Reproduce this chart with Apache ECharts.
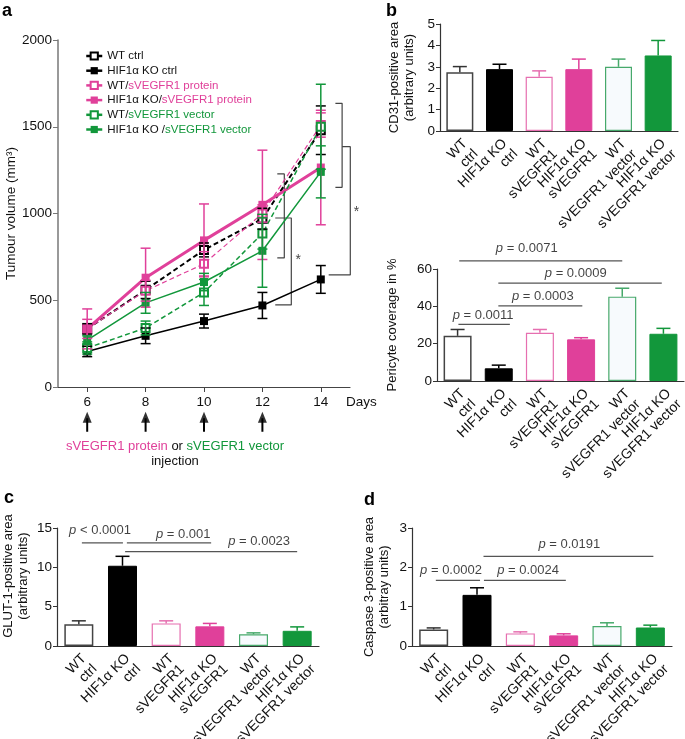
<!DOCTYPE html>
<html>
<head>
<meta charset="utf-8">
<script src="https://cdn.jsdelivr.net/npm/echarts@6.0.0/dist/echarts.min.js"></script>
<style>
  html, body { margin: 0; padding: 0; background: #fff; }
  #main { width: 685px; height: 739px; }
</style>
</head>
<body>
<div id="main"></div>
<script>
// panel a : tumour volume over days
var days = [6, 8, 10, 12, 14];
var wtCtrl = [335, 560, 790, 970, 1480];
var wtCtrlErr = [30, 50, 40, 60, 140];
var koCtrl = [205, 295, 380, 470, 620];
var koCtrlErr = [30, 45, 40, 75, 80];
var wtProt = [335, 555, 710, 1000, 1510];
var wtProtErr = [115, 60, 70, 50, 70];
var koProt = [335, 630, 845, 1050, 1265];
var koProtErr = [55, 170, 210, 315, 330];
var wtVec = [225, 340, 545, 885, 1500];
var wtVecErr = [35, 40, 75, 90, 245];
var koVec = [270, 485, 605, 785, 1240];
var koVecErr = [25, 60, 50, 210, 150];
var injectionDays = [6, 8, 10, 12];

// brackets and stars in panel a (day, volume)
var bracketsA = [
  [[12.51, 1228], [12.75, 1228], [12.75, 744], [12.51, 744]],
  [[12.44, 974], [12.99, 974], [12.99, 473], [12.44, 473]],
  [[14.5, 1635], [14.73, 1635], [14.73, 1151], [14.5, 1151]],
  [[14.73, 1385], [15.01, 1385], [15.01, 646], [14.27, 646]]
];
var starsA = [[13.23, 732], [15.22, 1010]];

// bar panels
var groups = ['WT\nctrl', 'HIF1α KO\nctrl', 'WT\nsVEGFR1', 'HIF1α KO\nsVEGFR1', 'WT\nsVEGFR1 vector', 'HIF1α KO\nsVEGFR1 vector'];
var cd31 = [2.74, 2.89, 2.53, 2.89, 3.0, 3.53];
var cd31Err = [0.27, 0.23, 0.28, 0.47, 0.36, 0.7];
var pericyte = [24.2, 6.8, 25.8, 22.3, 45.2, 25.3];
var pericyteErr = [3.4, 1.7, 1.8, 0.9, 4.5, 2.9];
var glut1 = [2.75, 10.2, 2.87, 2.5, 1.5, 1.93];
var glut1Err = [0.45, 1.2, 0.33, 0.37, 0.17, 0.5];
var casp3 = [0.42, 1.3, 0.32, 0.27, 0.51, 0.47];
var casp3Err = [0.04, 0.18, 0.04, 0.04, 0.08, 0.06];

// p value labels: text, label position [group, y], line [from, to, y]
var pericyteP = ['= 0.0011', '= 0.0003', '= 0.0009', '= 0.0071'];
var pericyteTextPos = [[0.62, 34.9], [2.07, 45.2], [2.87, 57.4], [1.68, 70.8]];
var pericyteLines = [[0.02, 1.27, 30.3], [0.99, 3.03, 40.2], [0.99, 4.96, 52.4], [0.04, 4.0, 64.4]];
var glutP = ['< 0.0001', '= 0.001', '= 0.0023'];
var glutTextPos = [[0.485, 14.75], [2.39, 14.2], [4.13, 13.3]];
var glutLines = [[0.07, 1.01, 13.1], [1.1, 3.03, 13.1], [1.06, 5.0, 12.0]];
var caspP = ['= 0.0002', '= 0.0024', '= 0.0191'];
var caspTextPos = [[0.4, 1.92], [2.18, 1.92], [3.13, 2.58]];
var caspLines = [[0.05, 1.07, 1.67], [1.16, 3.05, 1.67], [1.15, 5.07, 2.28]];

var pink = '#E0409A', pinkLight = '#E66FB0', green = '#12973B', greenLight = '#47A96B';
var barFill = ['#ffffff', '#000000', '#ffffff', pink, '#F7FAFD', green];
var barBorder = ['#444444', '#000000', pinkLight, pink, greenLight, green];
var barBorderW = [1.5, 1, 1.2, 1, 1.2, 1];
var errColor = ['#333333', '#000000', pinkLight, pink, greenLight, green];
var font = 'Liberation Sans, Arial, sans-serif';

var myChart = echarts.init(document.getElementById('main'));

function errSeries(name, xIdx, yIdx, xs, vals, errs, color, capW, both) {
  return {
    name: name,
    type: 'custom',
    xAxisIndex: xIdx,
    yAxisIndex: yIdx,
    silent: true,
    z: 5,
    clip: false,
    renderItem: function (params, api) {
      var x = api.value(0), lo = api.value(1), hi = api.value(2);
      var p1 = api.coord([x, lo]), p2 = api.coord([x, hi]);
      var c = typeof color === 'string' ? color : color[params.dataIndex];
      var st = { stroke: c, lineWidth: 1.5 };
      var kids = [
        { type: 'line', shape: { x1: p1[0], y1: p1[1], x2: p2[0], y2: p2[1] }, style: st },
        { type: 'line', shape: { x1: p2[0] - capW / 2, y1: p2[1], x2: p2[0] + capW / 2, y2: p2[1] }, style: st }
      ];
      if (both) {
        kids.push({ type: 'line', shape: { x1: p1[0] - capW / 2, y1: p1[1], x2: p1[0] + capW / 2, y2: p1[1] }, style: st });
      }
      return { type: 'group', children: kids };
    },
    data: vals.map(function (v, i) {
      return both ? [xs[i], v - errs[i], v + errs[i]] : [xs[i], v, v + errs[i]];
    })
  };
}

function lineA(name, vals, color, width, dashed, empty) {
  return {
    name: name,
    type: 'line',
    xAxisIndex: 0,
    yAxisIndex: 0,
    data: days.map(function (d, i) { return [d, vals[i]]; }),
    symbol: empty ? 'emptyRect' : 'rect',
    symbolSize: 8,
    color: color,
    itemStyle: { color: color, borderWidth: 1.6 },
    lineStyle: { color: color, width: width, type: dashed ? [5, 3] : 'solid' },
    z: 4
  };
}

function barSeries(xIdx, yIdx, vals, w) {
  return {
    type: 'bar',
    xAxisIndex: xIdx,
    yAxisIndex: yIdx,
    barWidth: w,
    data: vals.map(function (v, i) {
      return { value: v, itemStyle: { color: barFill[i], borderColor: barBorder[i], borderWidth: barBorderW[i] } };
    })
  };
}

function pSeries(xIdx, yIdx, texts, pos, lines) {
  var out = [];
  lines.forEach(function (l) {
    out.push({
      type: 'line', xAxisIndex: xIdx, yAxisIndex: yIdx, silent: true, clip: false,
      symbol: 'none', lineStyle: { color: '#555', width: 1.2 },
      data: [[l[0], l[2]], [l[1], l[2]]]
    });
  });
  out.push({
    type: 'scatter', xAxisIndex: xIdx, yAxisIndex: yIdx, silent: true, clip: false,
    symbolSize: 1, itemStyle: { color: 'transparent' },
    label: {
      show: true, position: 'inside', fontSize: 13, color: '#111', fontFamily: font,
      formatter: function (p) { return '{i|p} ' + texts[p.dataIndex]; },
      rich: { i: { fontStyle: 'italic', fontSize: 13, color: '#111', fontFamily: font } }
    },
    data: pos
  });
  return out;
}

function catAxis(grid) {
  return {
    type: 'category', gridIndex: grid, data: groups,
    axisLine: { lineStyle: { color: '#333', width: 1.2 } },
    axisTick: { alignWithLabel: true, length: 4, lineStyle: { color: '#333' } },
    axisLabel: { rotate: 45, interval: 0, fontSize: 14, lineHeight: 15, color: '#111', margin: 5,
      verticalAlign: 'top', fontFamily: font }
  };
}
function hiddenX(grid) {
  return { type: 'value', gridIndex: grid, show: false, min: -0.5, max: 5.5 };
}
function valAxis(grid, max, interval, name, gap, pad) {
  return {
    type: 'value', gridIndex: grid, min: 0, max: max, interval: interval,
    name: name, nameLocation: 'middle', nameGap: gap,
    nameTextStyle: { fontSize: 13, color: '#111', lineHeight: 15, fontFamily: font, padding: pad || 0 },
    axisLine: { show: true, onZero: false, lineStyle: { color: '#333', width: 1.2 } },
    axisTick: { show: true, length: 4, lineStyle: { color: '#333' } },
    axisLabel: { fontSize: 13.5, color: '#111', margin: 5, fontFamily: font },
    splitLine: { show: false }
  };
}

var series = [
  lineA('WT ctrl', wtCtrl, '#000', 2, true, true),
  lineA('HIF1α KO ctrl', koCtrl, '#000', 1.5, false, false),
  lineA('WT/sVEGFR1 protein', wtProt, pink, 1.2, true, true),
  lineA('HIF1α KO/sVEGFR1 protein', koProt, pink, 3, false, false),
  lineA('WT/sVEGFR1 vector', wtVec, green, 1.5, true, true),
  lineA('HIF1α KO /sVEGFR1 vector', koVec, green, 1.5, false, false),
  errSeries('e1', 0, 0, days, wtCtrl, wtCtrlErr, '#000', 10, true),
  errSeries('e2', 0, 0, days, koCtrl, koCtrlErr, '#000', 10, true),
  errSeries('e3', 0, 0, days, wtProt, wtProtErr, pink, 10, true),
  errSeries('e4', 0, 0, days, koProt, koProtErr, pink, 10, true),
  errSeries('e5', 0, 0, days, wtVec, wtVecErr, green, 10, true),
  errSeries('e6', 0, 0, days, koVec, koVecErr, green, 10, true)
];
bracketsA.forEach(function (b) {
  series.push({ type: 'line', xAxisIndex: 0, yAxisIndex: 0, clip: false, silent: true, symbol: 'none',
    lineStyle: { color: '#444', width: 1.2 }, data: b });
});
series.push({
  type: 'scatter', xAxisIndex: 0, yAxisIndex: 0, clip: false, silent: true, symbolSize: 1,
  itemStyle: { color: 'transparent' },
  label: { show: true, position: 'inside', formatter: '*', fontSize: 14, color: '#111' },
  data: starsA
});
// injection arrows below the day axis
injectionDays.forEach(function (d) {
  series.push({ type: 'line', xAxisIndex: 0, yAxisIndex: 0, clip: false, silent: true, symbol: 'none',
    lineStyle: { color: '#000', width: 2 }, data: [[d, -258], [d, -180]] });
});
series.push({
  type: 'scatter', xAxisIndex: 0, yAxisIndex: 0, clip: false, silent: true,
  symbol: 'triangle', symbolSize: [9, 11], itemStyle: { color: '#000' },
  data: injectionDays.map(function (d) { return [d, -175]; })
});

// bars
var idx = [0, 1, 2, 3, 4, 5];
series.push(barSeries(1, 1, cd31, 27));
series.push(errSeries('b1', 1, 1, idx, cd31, cd31Err, errColor, 14, false));
series.push(barSeries(2, 2, pericyte, 28));
series.push(errSeries('b2', 2, 2, idx, pericyte, pericyteErr, errColor, 14, false));
series.push(barSeries(4, 3, glut1, 29));
series.push(errSeries('b3', 4, 3, idx, glut1, glut1Err, errColor, 14, false));
series.push(barSeries(6, 4, casp3, 29));
series.push(errSeries('b4', 6, 4, idx, casp3, casp3Err, errColor, 14, false));
series = series.concat(pSeries(3, 2, pericyteP, pericyteTextPos, pericyteLines));
series = series.concat(pSeries(5, 3, glutP, glutTextPos, glutLines));
series = series.concat(pSeries(7, 4, caspP, caspTextPos, caspLines));

var option = {
  animation: false,
  backgroundColor: '#fff',
  textStyle: { fontFamily: font },
  legend: {
    orient: 'vertical', left: 80, top: 45,
    itemWidth: 16, itemHeight: 9, itemGap: 2.7,
    lineStyle: { type: 'solid', width: 2.5 },
    data: ['WT ctrl', 'HIF1α KO ctrl', 'WT/sVEGFR1 protein', 'HIF1α KO/sVEGFR1 protein', 'WT/sVEGFR1 vector', 'HIF1α KO /sVEGFR1 vector'],
    formatter: function (name) {
      var i = name.indexOf('sVEGFR1');
      if (i < 0) return '{k|' + name + '}';
      var c = name.indexOf('protein') >= 0 ? 'p' : 'g';
      return '{k|' + name.slice(0, i) + '}{' + c + '|' + name.slice(i) + '}';
    },
    textStyle: {
      fontSize: 11.5, lineHeight: 11, fontFamily: font,
      rich: {
        k: { color: '#111', fontSize: 11.5, lineHeight: 11, fontFamily: font },
        p: { color: pink, fontSize: 11.5, lineHeight: 11, fontFamily: font },
        g: { color: green, fontSize: 11.5, lineHeight: 11, fontFamily: font }
      }
    }
  },
  grid: [
    { left: 58, top: 40, width: 292, height: 347, outerBoundsMode: 'none' },
    { left: 440, top: 24, width: 238, height: 107, outerBoundsMode: 'none' },
    { left: 437, top: 269, width: 247, height: 112, outerBoundsMode: 'none' },
    { left: 57, top: 528, width: 262, height: 118, outerBoundsMode: 'none' },
    { left: 412, top: 528, width: 260, height: 118, outerBoundsMode: 'none' }
  ],
  xAxis: [
    {
      type: 'value', gridIndex: 0, min: 5, max: 15,
      name: 'Days', nameLocation: 'end', nameGap: -4,
      nameTextStyle: { fontSize: 13.5, color: '#111', align: 'left', verticalAlign: 'top', padding: [8, 0, 0, 0] },
      axisLine: { onZero: false, lineStyle: { color: '#444', width: 1.2 } },
      axisTick: { length: 5, customValues: days, lineStyle: { color: '#444' } },
      axisLabel: { fontSize: 13.5, color: '#111', margin: 8, customValues: days },
      splitLine: { show: false }
    },
    catAxis(1), catAxis(2), hiddenX(2), catAxis(3), hiddenX(3), catAxis(4), hiddenX(4)
  ],
  yAxis: [
    {
      type: 'value', gridIndex: 0, min: 0, max: 2000, interval: 500,
      name: 'Tumour volume (mm³)', nameLocation: 'middle', nameGap: 33,
      nameTextStyle: { fontSize: 13.5, color: '#111' },
      axisLine: { show: true, onZero: false, lineStyle: { color: '#777', width: 1.5 } },
      axisTick: { show: true, length: 5, lineStyle: { color: '#777' } },
      axisLabel: { fontSize: 13.5, color: '#111', margin: 6, formatter: function (v) { return String(v); } },
      splitLine: { show: false }
    },
    valAxis(1, 5, 1, 'CD31-positive area\n(arbitrary units)', 23),
    valAxis(2, 60, 20, 'Pericyte coverage in %', 37),
    valAxis(3, 15, 5, 'GLUT-1-positive area\n(arbitrary units)', 26, [0, 0, 0, 22]),
    valAxis(4, 3, 1, 'Caspase 3-positive area\n(arbitray units)', 20)
  ],
  graphic: [
    { type: 'text', left: 2, top: 2, style: { text: 'a', font: 'bold 18px ' + font, fill: '#000' } },
    { type: 'text', left: 386, top: 2, style: { text: 'b', font: 'bold 18px ' + font, fill: '#000' } },
    { type: 'text', left: 4, top: 489, style: { text: 'c', font: 'bold 18px ' + font, fill: '#000' } },
    { type: 'text', left: 364, top: 491, style: { text: 'd', font: 'bold 18px ' + font, fill: '#000' } },
    {
      type: 'text', x: 175, y: 446,
      style: {
        text: '{p|sVEGFR1 protein} or {g|sVEGFR1 vector}',
        font: '13px ' + font, fill: '#111', align: 'center', verticalAlign: 'middle',
        rich: {
          p: { fill: pink, fontSize: 13, fontFamily: font },
          g: { fill: green, fontSize: 13, fontFamily: font }
        }
      }
    },
    { type: 'text', x: 175, y: 461, style: { text: 'injection', font: '13px ' + font, fill: '#111', align: 'center', verticalAlign: 'middle' } }
  ],
  series: series
};

myChart.setOption(option);
window.onresize = function () { myChart.resize(); };
</script>
</body>
</html>
